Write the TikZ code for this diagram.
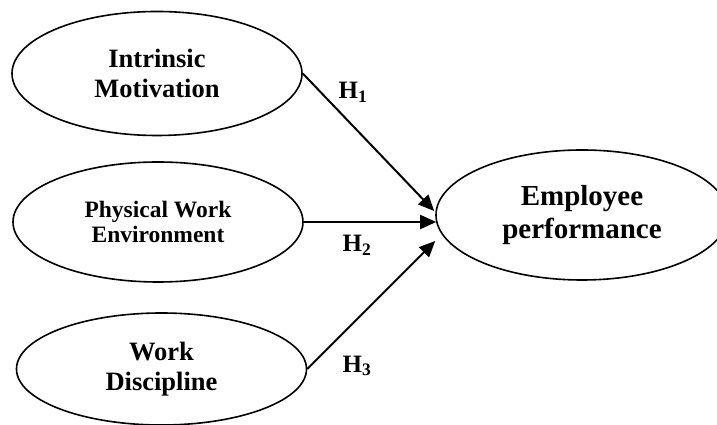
\documentclass[tikz,border=0pt]{standalone}
\usepackage{fontspec}
\setmainfont{Liberation Serif}
\usetikzlibrary{shapes.geometric,arrows.meta}
\tikzset{
  var/.style={draw, ellipse, line width=1.6pt, inner sep=0pt, align=center},
  arr/.style={line width=2pt, -{Triangle[length=16pt,width=14pt]}},
  hyp/.style={font=\bfseries\fontsize{25}{30}\selectfont, inner sep=0pt}
}
\begin{document}
\begin{tikzpicture}[x=1pt,y=1pt]
\useasboundingbox (0,0) rectangle (717,425);
\node[var, minimum width=290pt, minimum height=124pt, font=\bfseries\fontsize{26.5}{30}\selectfont] (im) at (157,351.5)
  {Intrinsic\\Motivation};
\node[var, minimum width=290pt, minimum height=120pt, font=\bfseries\fontsize{23.5}{25}\selectfont] (pw) at (158,203)
  {Physical Work\\Environment};
\node[var, minimum width=290pt, minimum height=112pt, font=\bfseries\fontsize{26.5}{30}\selectfont] (wd) at (161.5,56)
  {Work\\Discipline};
\node[var, minimum width=292pt, minimum height=130pt, font=\bfseries\fontsize{29}{33}\selectfont] (ep) at (582,210)
  {Employee\\performance};
\draw[arr] (im.east) -- ([xshift=-1pt,yshift=4pt]ep.west);
\draw[arr] (pw.east) -- ([xshift=1pt,yshift=-7pt]ep.west);
\draw[arr] (wd.east) -- ([yshift=-26pt]ep.west);
\node[hyp] (h1) at (353,333) {H\textsubscript{1}};
\node[hyp] (h2) at (357,180) {H\textsubscript{2}};
\node[hyp] (h3) at (357,59) {H\textsubscript{3}};
\end{tikzpicture}
\end{document}
